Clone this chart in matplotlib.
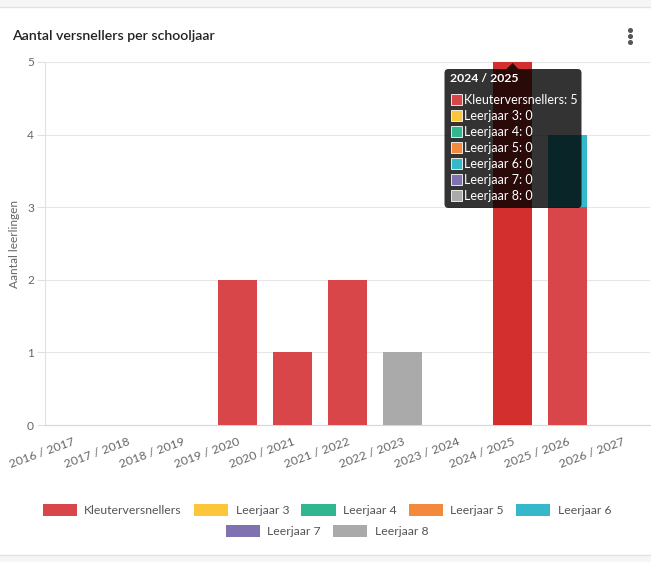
import numpy as np
import matplotlib
matplotlib.use("Agg")
import matplotlib.pyplot as plt
import matplotlib.patches as mpatches
from matplotlib.transforms import Affine2D, IdentityTransform

# ── data ──────────────────────────────────────────────────────────────────────
YEARS = ["2016 / 2017", "2017 / 2018", "2018 / 2019", "2019 / 2020", "2020 / 2021",
         "2021 / 2022", "2022 / 2023", "2023 / 2024", "2024 / 2025", "2025 / 2026",
         "2026 / 2027"]
SERIES = ["Kleuterversnellers", "Leerjaar 3", "Leerjaar 4", "Leerjaar 5",
          "Leerjaar 6", "Leerjaar 7", "Leerjaar 8"]
kleuter   = [0, 0, 0, 2, 1, 2, 0, 0, 5, 3, 0]
leerjaar3 = [0, 0, 0, 0, 0, 0, 0, 0, 0, 0, 0]
leerjaar4 = [0, 0, 0, 0, 0, 0, 0, 0, 0, 0, 0]
leerjaar5 = [0, 0, 0, 0, 0, 0, 0, 0, 0, 0, 0]
leerjaar6 = [0, 0, 0, 0, 0, 0, 0, 0, 0, 1, 0]
leerjaar7 = [0, 0, 0, 0, 0, 0, 0, 0, 0, 0, 0]
leerjaar8 = [0, 0, 0, 0, 0, 0, 1, 0, 0, 0, 0]
VALUES = [kleuter, leerjaar3, leerjaar4, leerjaar5, leerjaar6, leerjaar7, leerjaar8]
COLORS = ["#d9464a", "#fcc63b", "#31b68f", "#f2893d", "#35b8c9", "#8071b0", "#aaaaaa"]
HOVER = 8  # index of the year with the tooltip

plt.rcParams["font.family"] = ["Lato", "DejaVu Sans"]

W, H = 651, 562
fig = plt.figure(figsize=(W / 100, H / 100), dpi=100)
fig.patch.set_facecolor("white")

# card frame
fig.patches.append(mpatches.Rectangle((0, (H - 7) / H), 1, 7 / H, transform=fig.transFigure,
                                      facecolor="#f6f6f6", edgecolor="none"))
fig.add_artist(plt.Line2D([0, 1], [(H - 7) / H] * 2, transform=fig.transFigure,
                          color="#e2e2e2", lw=1))
fig.add_artist(plt.Line2D([0, 1], [(H - 555) / H] * 2, transform=fig.transFigure,
                          color="#e2e2e2", lw=1))
fig.patches.append(mpatches.Rectangle((0, 0), 1, (H - 555) / H, transform=fig.transFigure,
                                      facecolor="#f6f6f6", edgecolor="none"))

fig.text(12 / W, 1 - 36 / H, "Aantal versnellers per schooljaar", fontsize=10.2,
         fontweight="semibold", color="#222222", ha="left", va="center")
for yy in (30, 36, 42):
    fig.add_artist(plt.Line2D([630 / W], [1 - yy / H], transform=fig.transFigure,
                              marker="o", markersize=2.6, color="#555555", lw=0))

ax = fig.add_axes([45 / W, (H - 425) / H, 605 / W, 363 / H])
x = np.arange(len(YEARS))
bottom = np.zeros(len(YEARS))
for name, vals, col in zip(SERIES, VALUES, COLORS):
    vals = np.array(vals, dtype=float)
    cols = [("#d32f2f" if (i == HOVER and col == COLORS[0]) else col) for i in range(len(x))]
    ax.bar(x, vals, 0.72, bottom=bottom, color=cols, edgecolor="none", zorder=3)
    bottom += vals

ax.set_xlim(-0.5, len(YEARS) - 0.5)
ax.set_ylim(0, 5)
ax.set_yticks(range(6))
ax.set_xticks(x)
ax.set_xticklabels(YEARS, rotation=20, ha="right", rotation_mode="anchor",
                   fontsize=8.8, color="#666666")
ax.tick_params(axis="x", length=0, pad=8)
ax.tick_params(axis="y", length=6, color="#e0e0e0", labelsize=8.6, labelcolor="#666666", pad=2)
ax.grid(axis="y", color="#e6e6e6", lw=0.8, zorder=0)
for s in ["top", "right"]:
    ax.spines[s].set_visible(False)
ax.spines["left"].set_color("#e0e0e0")
ax.spines["bottom"].set_color("#d8d8d8")
ax.set_ylabel("Aantal leerlingen", fontsize=8.6, color="#666666", labelpad=5)

# legend: two centred rows
handles = [mpatches.Patch(facecolor=c, edgecolor="none") for c in COLORS]
leg_kw = dict(frameon=False, fontsize=8.8, handlelength=2.8, handleheight=1.15,
              handletextpad=0.6, columnspacing=1.0, labelcolor="#555555")
fig.legend(handles[:5], SERIES[:5], ncol=5, loc="center",
           bbox_to_anchor=(327 / W, 1 - 510 / H), **leg_kw)
fig.legend(handles[5:], SERIES[5:], ncol=2, loc="center",
           bbox_to_anchor=(327 / W, 1 - 531 / H), **leg_kw)

# tooltip anchored at top of hovered bar
fig.canvas.draw()
px, py = ax.transData.transform((HOVER, bottom[HOVER]))
tr = Affine2D().translate(px, py) + IdentityTransform()
box = mpatches.FancyBboxPatch((-68, -146), 137, 139, boxstyle="round,pad=0,rounding_size=4",
                              transform=tr, facecolor="black", alpha=0.8,
                              edgecolor="none", zorder=10)
fig.add_artist(box)
fig.add_artist(mpatches.Polygon([(-6, -7), (6, -7), (0, -1)], closed=True, transform=tr,
                                facecolor="black", alpha=0.8, edgecolor="none", zorder=10))
fig.add_artist(plt.Text(-63, -17, YEARS[HOVER], transform=tr, color="white", fontsize=8.8,
                        fontweight="bold", ha="left", va="center", zorder=11))
for k, (name, vals, col) in enumerate(zip(SERIES, VALUES, COLORS)):
    yy = -38 - 16 * k
    fig.add_artist(mpatches.Rectangle((-62, yy - 5.5), 11, 11, transform=tr, facecolor=col,
                                      edgecolor="white", lw=0.6, zorder=11))
    fig.add_artist(plt.Text(-49, yy, f"{name}: {vals[HOVER]}", transform=tr, color="white",
                            fontsize=9.0, ha="left", va="center", zorder=11))

fig.savefig("out.png", dpi=100)
